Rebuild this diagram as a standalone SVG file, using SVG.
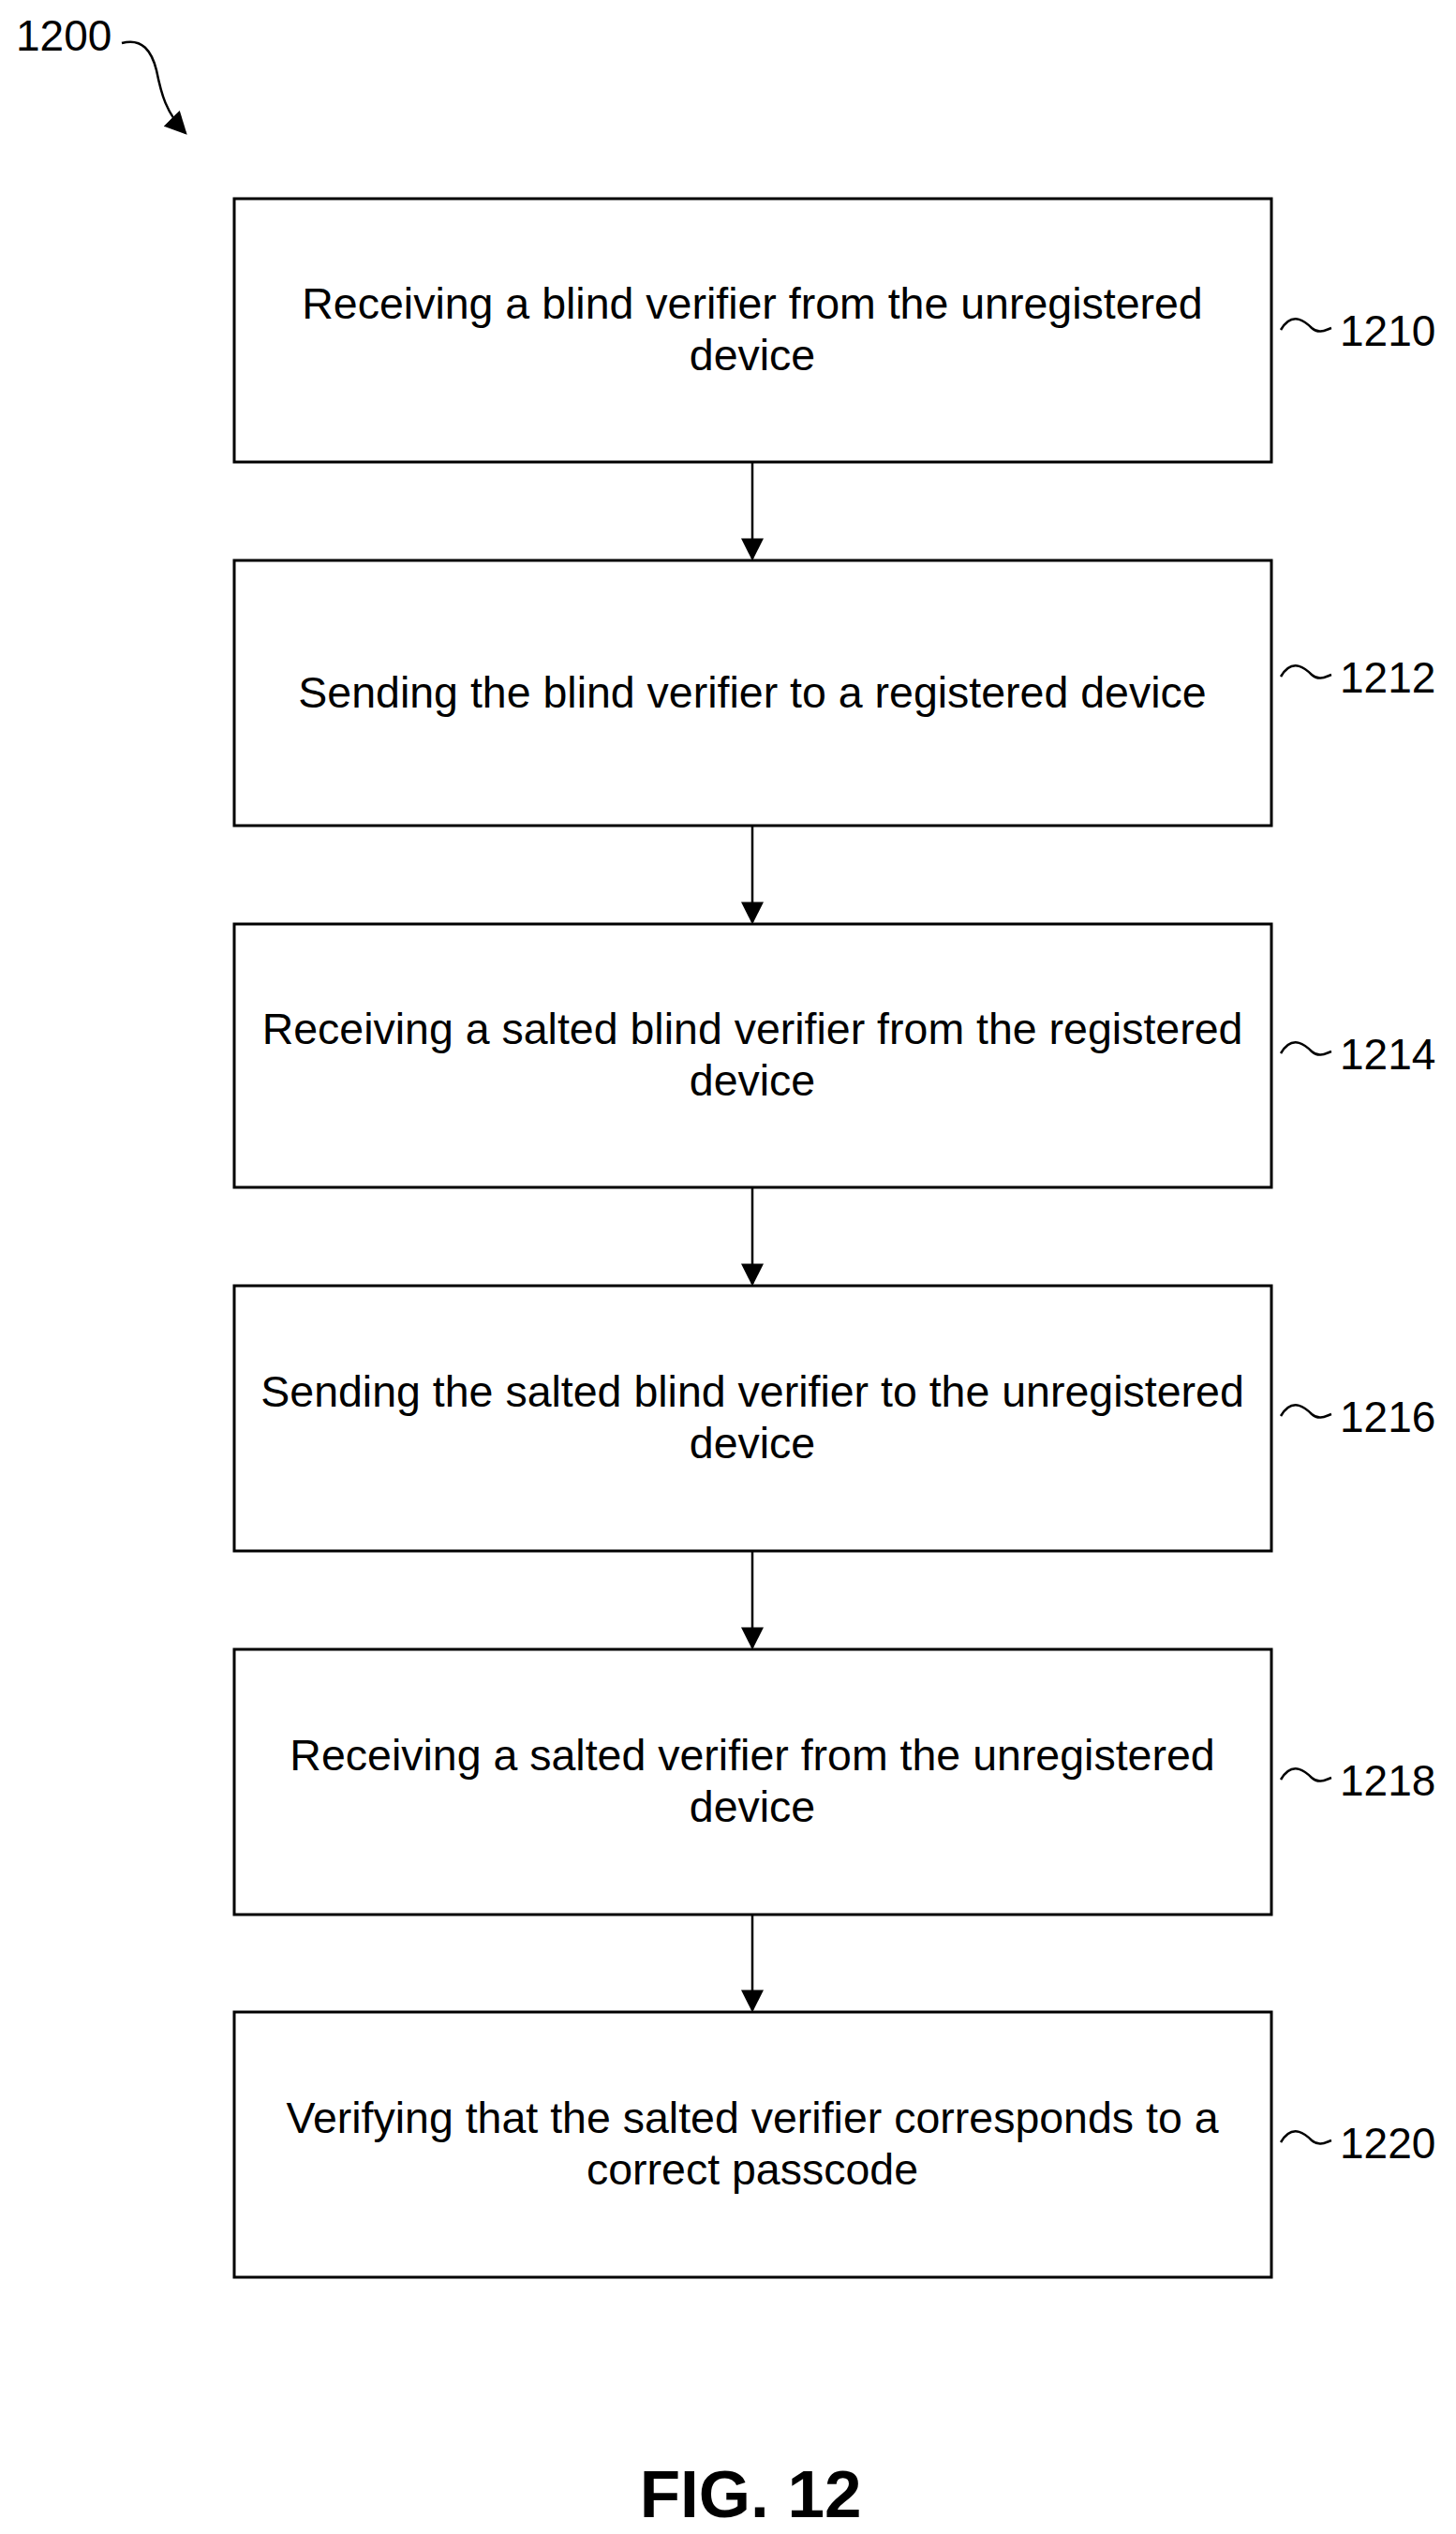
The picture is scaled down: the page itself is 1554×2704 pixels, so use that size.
<svg xmlns="http://www.w3.org/2000/svg" width="1554" height="2704" viewBox="0 0 1554 2704">
<defs>
<style>
.b{fill:#fff;stroke:#000;stroke-width:3}
.t{font-family:"Liberation Sans",Arial,sans-serif;font-size:46.5px;text-anchor:middle;fill:#000}
.l{font-family:"Liberation Sans",Arial,sans-serif;font-size:46px;fill:#000}
.s{fill:none;stroke:#000;stroke-width:2.5}
</style>
<marker id="a2" viewBox="0 0 10 10" refX="9" refY="5" markerWidth="24" markerHeight="24" orient="auto" markerUnits="userSpaceOnUse"><path d="M0,0 L10,5 L0,10z"/></marker>
</defs>
<rect width="1554" height="2704" fill="#fff"/>
<g id="title">
<text class="l" x="17" y="54">1200</text>
<path class="s" d="M130,46 C152,40 162,55 167,75 C172,100 177,120 198,142" marker-end="url(#a2)"/>
</g>
<g id="n1210"><rect class="b" x="250" y="212" width="1107" height="281"/>
<text class="t" x="803" y="340">Receiving a blind verifier from the unregistered</text>
<text class="t" x="803" y="395">device</text>
<path class="s" d="M1362,352 C1375,330 1390,345 1395,350 C1403,357 1410,352 1416,350" transform="translate(5,0)"/><text class="l" x="1430" y="369">1210</text></g>
<g id="n1212"><rect class="b" x="250" y="598" width="1107" height="283"/>
<text class="t" x="803" y="755">Sending the blind verifier to a registered device</text>
<path class="s" d="M1362,722 C1375,700 1390,715 1395,720 C1403,727 1410,722 1416,720" transform="translate(5,0)"/><text class="l" x="1430" y="739">1212</text></g>
<g id="n1214"><rect class="b" x="250" y="986" width="1107" height="281"/>
<text class="t" x="803" y="1114">Receiving a salted blind verifier from the registered</text>
<text class="t" x="803" y="1169">device</text>
<path class="s" d="M1362,1124 C1375,1102 1390,1117 1395,1122 C1403,1129 1410,1124 1416,1122" transform="translate(5,0)"/><text class="l" x="1430" y="1141">1214</text></g>
<g id="n1216"><rect class="b" x="250" y="1372" width="1107" height="283"/>
<text class="t" x="803" y="1501">Sending the salted blind verifier to the unregistered</text>
<text class="t" x="803" y="1556">device</text>
<path class="s" d="M1362,1511 C1375,1489 1390,1504 1395,1509 C1403,1516 1410,1511 1416,1509" transform="translate(5,0)"/><text class="l" x="1430" y="1528">1216</text></g>
<g id="n1218"><rect class="b" x="250" y="1760" width="1107" height="283"/>
<text class="t" x="803" y="1889">Receiving a salted verifier from the unregistered</text>
<text class="t" x="803" y="1944">device</text>
<path class="s" d="M1362,1899 C1375,1877 1390,1892 1395,1897 C1403,1904 1410,1899 1416,1897" transform="translate(5,0)"/><text class="l" x="1430" y="1916">1218</text></g>
<g id="n1220"><rect class="b" x="250" y="2147" width="1107" height="283"/>
<text class="t" x="803" y="2276">Verifying that the salted verifier corresponds to a</text>
<text class="t" x="803" y="2331">correct passcode</text>
<path class="s" d="M1362,2286 C1375,2264 1390,2279 1395,2284 C1403,2291 1410,2286 1416,2284" transform="translate(5,0)"/><text class="l" x="1430" y="2303">1220</text></g>
<g id="connectors" stroke="#000" stroke-width="2.5">
<line x1="803" y1="493" x2="803" y2="596" marker-end="url(#a2)"/>
<line x1="803" y1="881" x2="803" y2="984" marker-end="url(#a2)"/>
<line x1="803" y1="1267" x2="803" y2="1370" marker-end="url(#a2)"/>
<line x1="803" y1="1655" x2="803" y2="1758" marker-end="url(#a2)"/>
<line x1="803" y1="2043" x2="803" y2="2145" marker-end="url(#a2)"/>
</g>
<text x="801" y="2686" font-family="Liberation Sans,Arial,sans-serif" font-size="71" font-weight="bold" text-anchor="middle">FIG. 12</text>
</svg>
